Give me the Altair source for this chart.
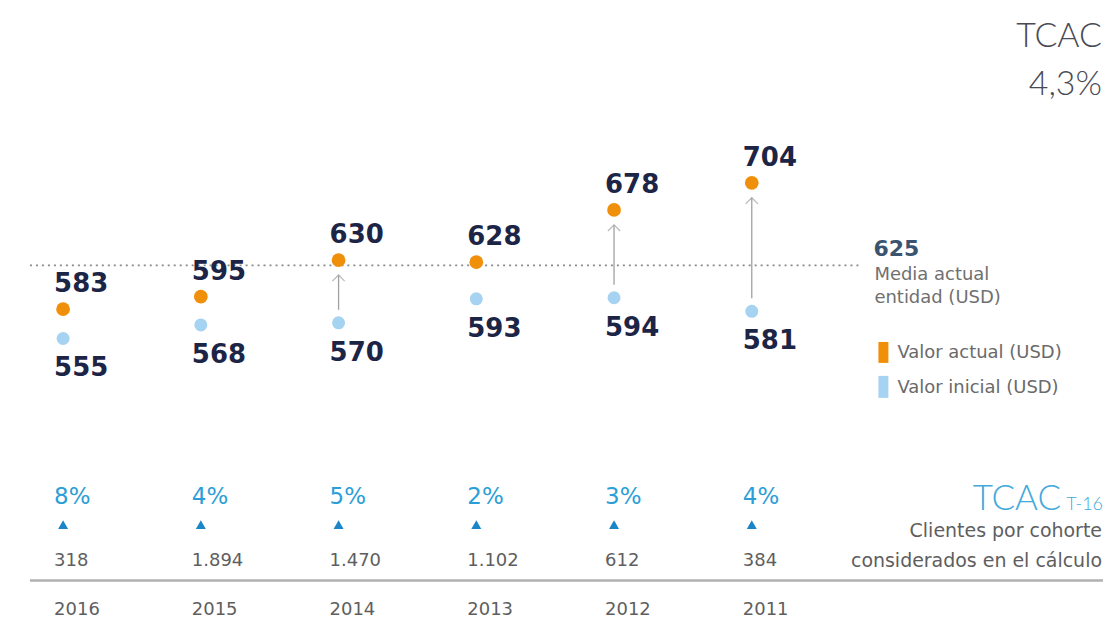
import altair as alt
import pandas as pd

# ---- data ----
years = ["2016", "2015", "2014", "2013", "2012", "2011"]
valor_inicial = [555, 568, 570, 593, 594, 581]
valor_actual = [583, 595, 630, 628, 678, 704]
tcac_cohorte = [8, 4, 5, 2, 3, 4]
clientes = [318, 1894, 1470, 1102, 612, 384]
media_actual = 625
tcac_total = "4,3%"

def es_num(n):
    return f"{n:,}".replace(",", ".")

df = pd.DataFrame({
    "idx": list(range(len(years))),
    "year": years,
    "inicial": valor_inicial,
    "actual": valor_actual,
    "tcac": [f"{t}%" for t in tcac_cohorte],
    "clientes": [es_num(c) for c in clientes],
})
df["diff"] = df["actual"] - df["inicial"]

W, H = 1097, 606
xs = alt.Scale(domain=[-0.40, 7.55])
ys = alt.Scale(domain=[291.8, 870.8])
X = alt.X("idx:Q", scale=xs, axis=None)

NAVY = "#1d2547"
ORANGE = "#f0900a"
LBLUE = "#a6d3f1"
CYAN = "#2b9ed8"
GRAY = "#5e5e5e"
BODY = "DejaVu Sans"
LIGHT = "Lato"

base = alt.Chart(df)

# reference dotted line (media actual)
ref = alt.Chart(pd.DataFrame({"v": [media_actual]})).mark_rule(
    color="#8a8a8a", strokeDash=[2, 4], strokeWidth=1.6
).encode(y=alt.Y("v:Q", scale=ys, axis=None), x=alt.value(22), x2=alt.value(856))

arrows = base.transform_filter("datum.diff >= 50").mark_rule(
    color="#a0a0a0", strokeWidth=1.3, yOffset=15, y2Offset=-13
).encode(x=X, y=alt.Y("actual:Q", scale=ys, axis=None), y2="inicial:Q")

heads = base.transform_filter("datum.diff >= 50").mark_point(
    shape="M-1,0.5L0,-0.5L1,0.5", filled=False, color="#a0a0a0",
    strokeWidth=1.3, size=150, yOffset=18
).encode(x=X, y=alt.Y("actual:Q", scale=ys, axis=None))

pts_ini = base.mark_circle(color=LBLUE, opacity=1, size=170).encode(
    x=X, y=alt.Y("inicial:Q", scale=ys, axis=None))
pts_act = base.mark_circle(color=ORANGE, opacity=1, size=190).encode(
    x=X, y=alt.Y("actual:Q", scale=ys, axis=None))

lbl_act = base.mark_text(
    align="left", baseline="middle", dx=-9, dy=-25, font=BODY,
    fontWeight="bold", fontSize=26, color=NAVY
).encode(x=X, y=alt.Y("actual:Q", scale=ys, axis=None), text="actual:Q")
lbl_ini = base.mark_text(
    align="left", baseline="middle", dx=-9, dy=30, font=BODY,
    fontWeight="bold", fontSize=26, color=NAVY
).encode(x=X, y=alt.Y("inicial:Q", scale=ys, axis=None), text="inicial:Q")

# bottom rows
pct = base.mark_text(align="left", baseline="middle", dx=-9, font=BODY,
                     fontSize=23, color=CYAN).encode(x=X, y=alt.value(489), text="tcac:N")
tri = base.mark_point(shape="triangle-up", filled=True, color="#1a86c8", size=100,
                      opacity=1).encode(x=X, y=alt.value(517))
cnt = base.mark_text(align="left", baseline="middle", dx=-9, font=BODY,
                     fontSize=18, color=GRAY).encode(x=X, y=alt.value(553), text="clientes:N")
yrs = base.mark_text(align="left", baseline="middle", dx=-9, font=BODY,
                     fontSize=18, color=GRAY).encode(x=X, y=alt.value(603), text="year:N")

sep = alt.Chart(pd.DataFrame({"a": [0]})).mark_rule(color="#b0b0b0", strokeWidth=2.5).encode(
    x=alt.value(22), x2=alt.value(W), y=alt.value(573))

def txt(s, x, y, size, color, align="left", weight="normal", baseline="middle", font=BODY):
    return alt.Chart(pd.DataFrame({"t": [s]})).mark_text(
        align=align, baseline=baseline, font=font, fontSize=size,
        fontWeight=weight, color=color
    ).encode(x=alt.value(x), y=alt.value(y), text="t:N")

side = [
    txt(str(media_actual), 867, 241, 22, "#3a5370", weight="bold"),
    txt("Media actual", 868, 267, 18, "#707070"),
    txt("entidad (USD)", 868, 290, 18, "#707070"),
    txt("Valor actual (USD)", 891, 345, 18, "#6a6a6a"),
    txt("Valor inicial (USD)", 891, 380, 18, "#6a6a6a"),
    txt("TCAC", 1096, 29, 34, "#4a4a55", align="right", weight=300, font=LIGHT),
    txt(tcac_total, 1096, 77, 34, "#4a4a55", align="right", weight=300, font=LIGHT),
    txt("TCAC", 1055, 502, 35, "#42a9db", align="right", weight=300, baseline="alphabetic", font=LIGHT),
    txt("T-16", 1097, 502, 18, "#42a9db", align="right", weight=300, baseline="alphabetic", font=LIGHT),
    txt("Clientes por cohorte", 1096, 523, 19, GRAY, align="right"),
    txt("considerados en el cálculo", 1096, 553, 19, GRAY, align="right"),
]

sw_o = alt.Chart(pd.DataFrame({"a": [0]})).mark_rect(color=ORANGE).encode(
    x=alt.value(872), x2=alt.value(882), y=alt.value(334), y2=alt.value(355))
sw_b = alt.Chart(pd.DataFrame({"a": [0]})).mark_rect(color=LBLUE).encode(
    x=alt.value(872), x2=alt.value(882), y=alt.value(368), y2=alt.value(390))

chart = alt.layer(
    ref, arrows, heads, pts_ini, pts_act, lbl_act, lbl_ini,
    pct, tri, cnt, yrs, sep, sw_o, sw_b, *side
).properties(width=W, height=H, padding=0, background="white").configure_view(stroke=None)

chart.save("out.html", embed_options={"renderer": "svg", "actions": False})
